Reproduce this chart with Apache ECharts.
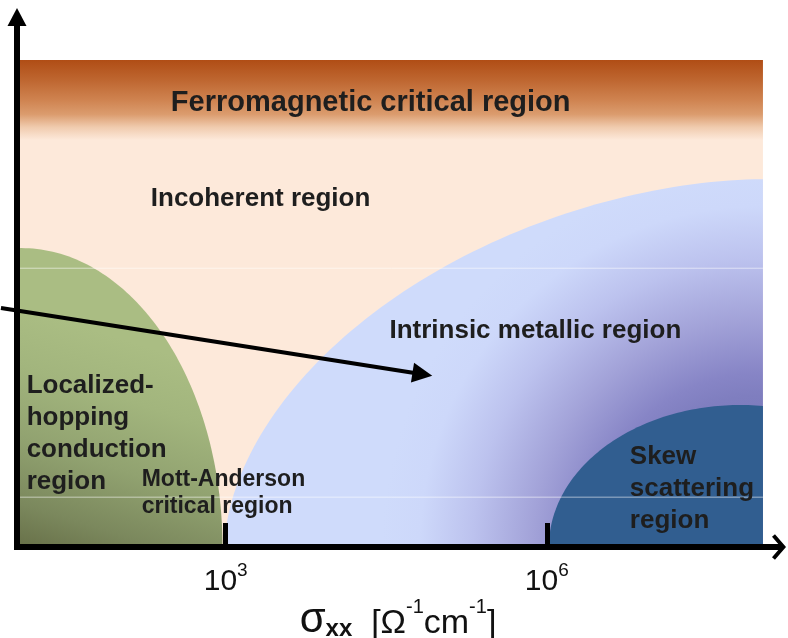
<!DOCTYPE html>
<html><head><meta charset="utf-8">
<script src="https://cdn.jsdelivr.net/npm/echarts@6/dist/echarts.min.js"></script>
<style>html,body{margin:0;padding:0;background:#fff}#c{width:788px;height:638px}</style>
</head><body><div id="c"></div>
<script>
// x: log10(sigma_xx [Ohm^-1 cm^-1]); y: arbitrary scale 0..100
const xTicks = [3, 6];
const xMin = 1.05, xMax = 8.17;
const yMin = 0, yMax = 100;
const shadedRight = 8.02;
const shadedTop = 91.9;
const ferroBottom = 76.8;

const regionNames = ['Localized-hopping', 'Intrinsic metallic', 'Skew scattering'];
const regionCenterX = [1.09, 8.00, 7.81];
const regionHalfWidth = [1.88, 5.01, 1.79];
const regionHeight = [56.4, 69.4, 26.8];
const regionExponent = [2, 1.8, 2];

const guideLevels = [52.6, 9.4];

const arrowFrom = [0.9, 45.1];
const arrowTo = [4.93, 32.3];

const labelTexts = [
  'Ferromagnetic critical region',
  'Incoherent region',
  'Intrinsic metallic region',
  'Localized-\nhopping\nconduction\nregion',
  'Mott-Anderson\ncritical region',
  'Skew\nscattering\nregion'
];
const labelX = [4.355, 2.30, 4.53, 1.14, 2.215, 6.776];
const labelY = [83.8, 65.6, 40.7, 21.4, 10.1, 11.0];

const FONT = '"Liberation Sans", Arial, Helvetica, sans-serif';
const labelStyle = [
  {size: 29, align: 'center', lh: 34},
  {size: 26, align: 'left', lh: 30},
  {size: 26, align: 'left', lh: 30},
  {size: 26, align: 'left', lh: 32},
  {size: 23, align: 'left', lh: 27},
  {size: 26, align: 'left', lh: 32}
];

const chart = echarts.init(document.getElementById('c'), null, {renderer: 'canvas'});

function shapePoints(api, cx, rx, ry, n) {
  const pts = [];
  const N = 160;
  for (let i = 0; i <= N; i++) {
    const t = Math.PI * i / N;
    const c = Math.cos(t), s = Math.sin(t);
    let x = cx + rx * Math.sign(c) * Math.pow(Math.abs(c), 2 / n);
    const y = ry * Math.pow(s, 2 / n);
    x = Math.min(Math.max(x, xMin), shadedRight);
    pts.push(api.coord([x, y]));
  }
  return pts;
}

const regionFills = [
  function (api, i) {
    const a = api.coord([regionCenterX[i], 0]);
    const b = api.coord([regionCenterX[i] + 0.65, regionHeight[i] * 0.73]);
    return new echarts.graphic.LinearGradient(a[0], a[1], b[0], b[1], [
      {offset: 0, color: '#687149'},
      {offset: 0.18, color: '#7B885D'},
      {offset: 0.45, color: '#91A270'},
      {offset: 0.75, color: '#A2B57D'},
      {offset: 1, color: '#AABD83'}
    ], true);
  },
  function (api, i) {
    const c = api.coord([regionCenterX[i], 0]);
    const r = api.size([0, regionHeight[i]])[1] * 1.03;
    return new echarts.graphic.RadialGradient(c[0], c[1], r, [
      {offset: 0, color: '#6E6DB2'},
      {offset: 0.4, color: '#7F7EBF'},
      {offset: 0.46, color: '#8785C6'},
      {offset: 0.6, color: '#A2A2D8'},
      {offset: 0.76, color: '#BCC2EE'},
      {offset: 0.9, color: '#CDD8FA'},
      {offset: 1, color: '#CFDBFB'}
    ], true);
  },
  function () { return '#315E90'; }
];

const option = {
  animation: false,
  backgroundColor: '#ffffff',
  grid: {left: 17, right: 9, top: 17, bottom: 91, containLabel: false, outerBoundsMode: 'none'},
  xAxis: {
    type: 'value', min: xMin, max: xMax, z: 10,
    axisLine: {
      show: true,
      lineStyle: {color: '#000', width: 6},
      symbol: ['none', 'path://M15,0 L30,13 L27,16.5 L15,6 L3,16.5 L0,13 Z'],
      symbolSize: [29, 14],
      symbolOffset: [0, 0]
    },
    axisTick: {show: true, inside: true, length: 24, customValues: xTicks, lineStyle: {color: '#000', width: 5}},
    axisLabel: {
      show: true, customValues: xTicks, margin: 14,
      formatter: function (v) { return '{b|10}{s|' + Math.round(v) + '}'; },
      rich: {
        b: {fontSize: 30, fontFamily: FONT, color: '#111', lineHeight: 36, verticalAlign: 'bottom'},
        s: {fontSize: 19, fontFamily: FONT, color: '#111', lineHeight: 22, verticalAlign: 'top'}
      }
    },
    splitLine: {show: false},
    name: '{g|σ}{x|xx}{n|  [Ω}{p|-1}{n|cm}{p|-1}{n|]}',
    nameLocation: 'middle',
    nameGap: 50,
    nameMoveOverlap: false,
    nameTextStyle: {
      rich: {
        g: {fontSize: 42, fontFamily: FONT, color: '#111', lineHeight: 44, verticalAlign: 'bottom'},
        x: {fontSize: 24, fontWeight: 'bold', fontFamily: FONT, color: '#111', lineHeight: 22, verticalAlign: 'bottom'},
        n: {fontSize: 34, fontFamily: FONT, color: '#111', lineHeight: 42, verticalAlign: 'bottom'},
        p: {fontSize: 20, fontFamily: FONT, color: '#111', lineHeight: 28, verticalAlign: 'top'}
      }
    }
  },
  yAxis: {
    type: 'value', min: yMin, max: yMax, z: 10,
    axisLine: {
      show: true,
      lineStyle: {color: '#000', width: 6, cap: 'square'},
      symbol: ['none', 'triangle'],
      symbolSize: [19, 18]
    },
    axisTick: {show: false},
    axisLabel: {show: false},
    splitLine: {show: false}
  },
  series: [
    {
      type: 'custom', z: 1, silent: true,
      data: [[0]],
      renderItem: function (params, api) {
        const bl = api.coord([xMin, 0]);
        const tr = api.coord([shadedRight, shadedTop]);
        const fb = api.coord([xMin, ferroBottom]);
        return {
          type: 'group',
          children: [
            {type: 'rect', shape: {x: bl[0], y: tr[1], width: tr[0] - bl[0], height: bl[1] - tr[1]},
              style: {fill: '#FDE9DA'}},
            {type: 'rect', shape: {x: bl[0], y: tr[1], width: tr[0] - bl[0], height: fb[1] - tr[1]},
              style: {fill: new echarts.graphic.LinearGradient(0, 0, 0, 1, [
                {offset: 0, color: '#B04D15'},
                {offset: 0.25, color: '#BE6630'},
                {offset: 0.5, color: '#CF8350'},
                {offset: 0.68, color: '#DB9C6E'},
                {offset: 0.84, color: '#F0CBAE'},
                {offset: 1, color: '#FDE9DA'}
              ])}}
          ]
        };
      }
    },
    {
      type: 'custom', z: 2, silent: true,
      data: regionNames.map((n, i) => [i]),
      renderItem: function (params, api) {
        const i = api.value(0);
        const pts = shapePoints(api, regionCenterX[i], regionHalfWidth[i], regionHeight[i], regionExponent[i]);
        return {type: 'polygon', shape: {points: pts}, style: {fill: regionFills[i](api, i)}};
      }
    },
    {
      type: 'custom', z: 3, silent: true,
      data: guideLevels.map(v => [v]),
      renderItem: function (params, api) {
        const a = api.coord([xMin, api.value(0)]);
        const b = api.coord([shadedRight, api.value(0)]);
        return {type: 'line', shape: {x1: a[0] + 3, y1: a[1], x2: b[0], y2: b[1]},
          style: {stroke: 'rgba(255,255,255,0.55)', lineWidth: 1}};
      }
    },
    {
      type: 'custom', z: 4, silent: true,
      data: [[arrowFrom[0], arrowFrom[1], arrowTo[0], arrowTo[1]]],
      renderItem: function (params, api) {
        const p0 = api.coord([api.value(0), api.value(1)]);
        const p1 = api.coord([api.value(2), api.value(3)]);
        const dx = p1[0] - p0[0], dy = p1[1] - p0[1];
        const L = Math.sqrt(dx * dx + dy * dy);
        const ux = dx / L, uy = dy / L, px = -uy, py = ux;
        const hl = 20, hw = 10;
        const bx = p1[0] - ux * hl, by = p1[1] - uy * hl;
        return {
          type: 'group',
          children: [
            {type: 'line', shape: {x1: p0[0], y1: p0[1], x2: bx + ux * 2, y2: by + uy * 2},
              style: {stroke: '#000', lineWidth: 4}},
            {type: 'polygon', shape: {points: [[p1[0], p1[1]], [bx + px * hw, by + py * hw], [bx - px * hw, by - py * hw]]},
              style: {fill: '#000'}}
          ]
        };
      }
    },
    {
      type: 'custom', z: 5, silent: true,
      data: labelTexts.map((t, i) => [labelX[i], labelY[i], i]),
      renderItem: function (params, api) {
        const i = api.value(2);
        const p = api.coord([api.value(0), api.value(1)]);
        const st = labelStyle[i];
        return {
          type: 'text', x: p[0], y: p[1],
          style: {
            text: labelTexts[i],
            font: 'bold ' + st.size + 'px ' + FONT,
            fill: '#1E1E1E',
            align: st.align,
            verticalAlign: 'middle',
            lineHeight: st.lh
          }
        };
      }
    }
  ]
};
chart.setOption(option);
</script>
</body></html>
